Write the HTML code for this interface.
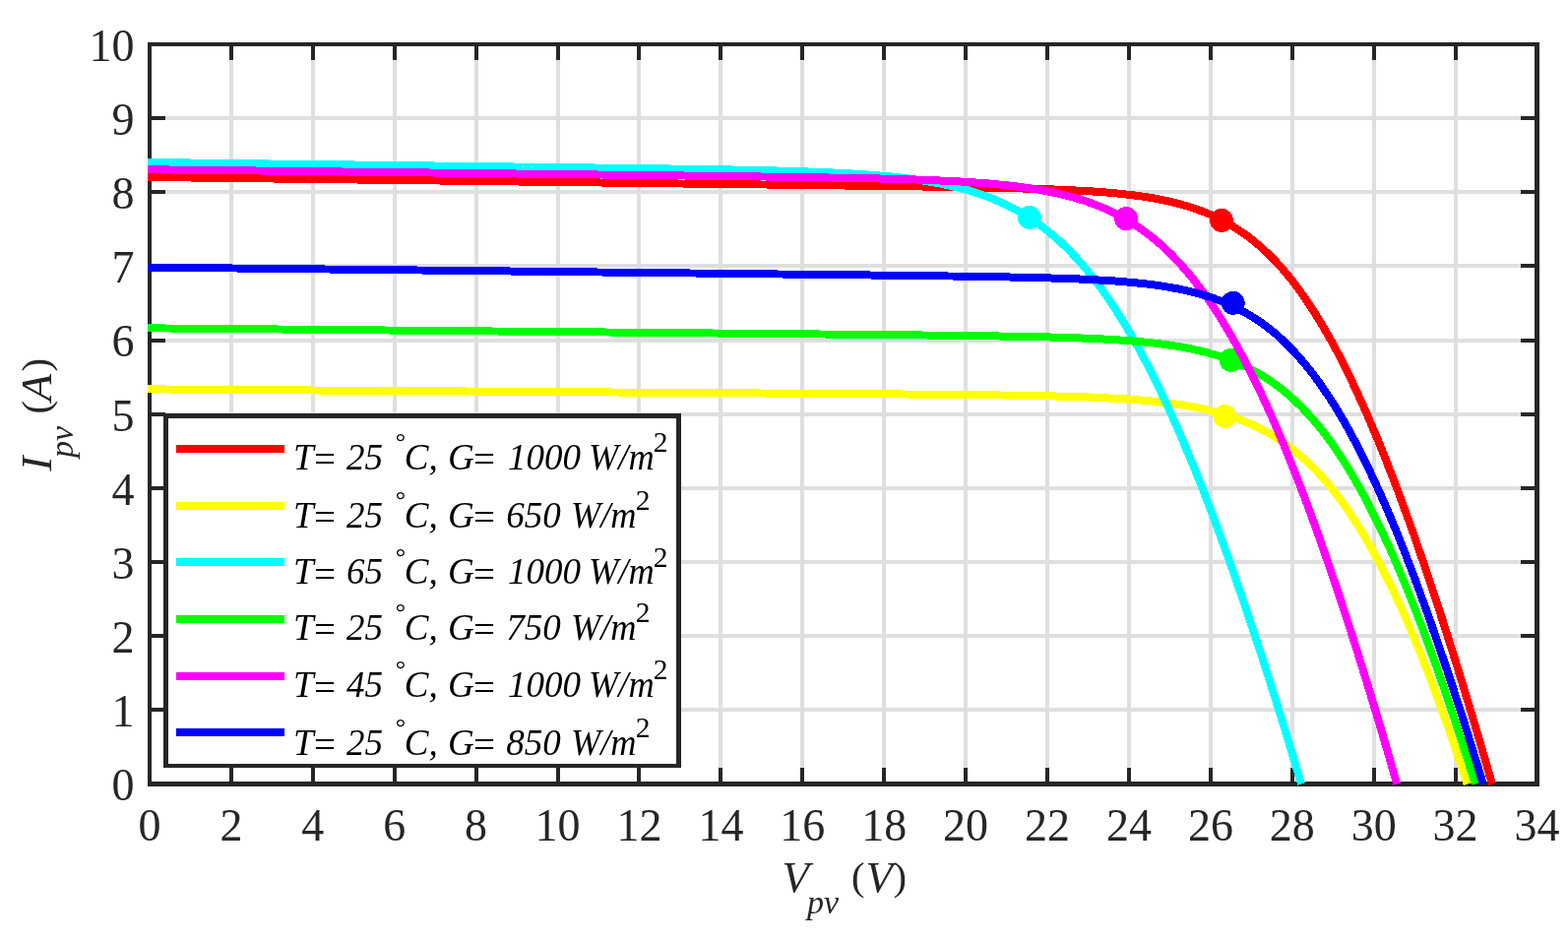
<!DOCTYPE html>
<html><head><meta charset="utf-8"><title>I-V characteristics</title>
<style>
html,body{margin:0;padding:0;background:#fff;}
body{width:1593px;height:956px;overflow:hidden;}
svg{display:block;}
.tk{font-family:"Liberation Serif","Times New Roman",serif;font-size:46px;fill:#262626;}
.lg{font-family:"Liberation Serif","Times New Roman",serif;font-style:italic;font-size:37px;fill:#000;}
.up{font-style:normal;}
.al{font-family:"Liberation Serif","Times New Roman",serif;font-style:italic;font-size:46px;fill:#262626;}
</style></head><body>
<svg width="1593" height="956" viewBox="0 0 1593 956">
<rect x="0" y="0" width="1593" height="956" fill="#fff"/>

<g fill="#dfdfdf" shape-rendering="crispEdges"><rect x="232.91" y="43" width="4" height="756"/><rect x="315.82" y="43" width="4" height="756"/><rect x="398.74" y="43" width="4" height="756"/><rect x="481.65" y="43" width="4" height="756"/><rect x="564.56" y="43" width="4" height="756"/><rect x="647.47" y="43" width="4" height="756"/><rect x="730.38" y="43" width="4" height="756"/><rect x="813.29" y="43" width="4" height="756"/><rect x="896.21" y="43" width="4" height="756"/><rect x="979.12" y="43" width="4" height="756"/><rect x="1062.03" y="43" width="4" height="756"/><rect x="1144.94" y="43" width="4" height="756"/><rect x="1227.85" y="43" width="4" height="756"/><rect x="1310.76" y="43" width="4" height="756"/><rect x="1393.68" y="43" width="4" height="756"/><rect x="1476.59" y="43" width="4" height="756"/><rect x="150" y="719.35" width="1414" height="4"/><rect x="150" y="644.20" width="1414" height="4"/><rect x="150" y="569.05" width="1414" height="4"/><rect x="150" y="493.90" width="1414" height="4"/><rect x="150" y="418.75" width="1414" height="4"/><rect x="150" y="343.60" width="1414" height="4"/><rect x="150" y="268.45" width="1414" height="4"/><rect x="150" y="193.30" width="1414" height="4"/><rect x="150" y="118.15" width="1414" height="4"/></g>
<g fill="#262626" shape-rendering="crispEdges"><rect x="232.91" y="43" width="4" height="18"/><rect x="232.91" y="780" width="4" height="19"/><rect x="315.82" y="43" width="4" height="18"/><rect x="315.82" y="780" width="4" height="19"/><rect x="398.74" y="43" width="4" height="18"/><rect x="398.74" y="780" width="4" height="19"/><rect x="481.65" y="43" width="4" height="18"/><rect x="481.65" y="780" width="4" height="19"/><rect x="564.56" y="43" width="4" height="18"/><rect x="564.56" y="780" width="4" height="19"/><rect x="647.47" y="43" width="4" height="18"/><rect x="647.47" y="780" width="4" height="19"/><rect x="730.38" y="43" width="4" height="18"/><rect x="730.38" y="780" width="4" height="19"/><rect x="813.29" y="43" width="4" height="18"/><rect x="813.29" y="780" width="4" height="19"/><rect x="896.21" y="43" width="4" height="18"/><rect x="896.21" y="780" width="4" height="19"/><rect x="979.12" y="43" width="4" height="18"/><rect x="979.12" y="780" width="4" height="19"/><rect x="1062.03" y="43" width="4" height="18"/><rect x="1062.03" y="780" width="4" height="19"/><rect x="1144.94" y="43" width="4" height="18"/><rect x="1144.94" y="780" width="4" height="19"/><rect x="1227.85" y="43" width="4" height="18"/><rect x="1227.85" y="780" width="4" height="19"/><rect x="1310.76" y="43" width="4" height="18"/><rect x="1310.76" y="780" width="4" height="19"/><rect x="1393.68" y="43" width="4" height="18"/><rect x="1393.68" y="780" width="4" height="19"/><rect x="1476.59" y="43" width="4" height="18"/><rect x="1476.59" y="780" width="4" height="19"/><rect x="150" y="719.35" width="18" height="4"/><rect x="1545" y="719.35" width="19" height="4"/><rect x="150" y="644.20" width="18" height="4"/><rect x="1545" y="644.20" width="19" height="4"/><rect x="150" y="569.05" width="18" height="4"/><rect x="1545" y="569.05" width="19" height="4"/><rect x="150" y="493.90" width="18" height="4"/><rect x="1545" y="493.90" width="19" height="4"/><rect x="150" y="418.75" width="18" height="4"/><rect x="1545" y="418.75" width="19" height="4"/><rect x="150" y="343.60" width="18" height="4"/><rect x="1545" y="343.60" width="19" height="4"/><rect x="150" y="268.45" width="18" height="4"/><rect x="1545" y="268.45" width="19" height="4"/><rect x="150" y="193.30" width="18" height="4"/><rect x="1545" y="193.30" width="19" height="4"/><rect x="150" y="118.15" width="18" height="4"/><rect x="1545" y="118.15" width="19" height="4"/><rect x="150" y="43" width="4" height="756"/><rect x="1559" y="43" width="5" height="756"/><rect x="150" y="43" width="1414" height="4"/><rect x="150" y="794" width="1414" height="5"/></g>
<g class="tk"><text x="152.0" y="854" text-anchor="middle">0</text><text x="234.9" y="854" text-anchor="middle">2</text><text x="317.8" y="854" text-anchor="middle">4</text><text x="400.7" y="854" text-anchor="middle">6</text><text x="483.6" y="854" text-anchor="middle">8</text><text x="566.6" y="854" text-anchor="middle">10</text><text x="649.5" y="854" text-anchor="middle">12</text><text x="732.4" y="854" text-anchor="middle">14</text><text x="815.3" y="854" text-anchor="middle">16</text><text x="898.2" y="854" text-anchor="middle">18</text><text x="981.1" y="854" text-anchor="middle">20</text><text x="1064.0" y="854" text-anchor="middle">22</text><text x="1146.9" y="854" text-anchor="middle">24</text><text x="1229.9" y="854" text-anchor="middle">26</text><text x="1312.8" y="854" text-anchor="middle">28</text><text x="1395.7" y="854" text-anchor="middle">30</text><text x="1478.6" y="854" text-anchor="middle">32</text><text x="1561.5" y="854" text-anchor="middle">34</text><text x="136.5" y="813.3" text-anchor="end">0</text><text x="136.5" y="738.1" text-anchor="end">1</text><text x="136.5" y="663.0" text-anchor="end">2</text><text x="136.5" y="587.8" text-anchor="end">3</text><text x="136.5" y="512.7" text-anchor="end">4</text><text x="136.5" y="437.6" text-anchor="end">5</text><text x="136.5" y="362.4" text-anchor="end">6</text><text x="136.5" y="287.2" text-anchor="end">7</text><text x="136.5" y="212.1" text-anchor="end">8</text><text x="136.5" y="136.9" text-anchor="end">9</text><text x="136.5" y="61.8" text-anchor="end">10</text></g>
<text class="al"><tspan x="794.5" y="906" font-size="45">V</tspan><tspan x="820" y="927.7" font-size="34">pv</tspan><tspan class="up" x="865.1" y="904.1" font-size="40.6">(</tspan><tspan x="879.5" y="906" font-size="45">V</tspan><tspan class="up" x="907.6" y="904.1" font-size="40.6">)</tspan></text>
<g transform="translate(51.8,478.5) rotate(-90)"><text class="al"><tspan x="0" y="0" font-size="45">I</tspan><tspan x="13.5" y="22" font-size="34">pv</tspan><tspan class="up" x="58.1" y="-1.6" font-size="40.6">(</tspan><tspan x="71" y="0" font-size="45">A</tspan><tspan class="up" x="101.1" y="-1.6" font-size="40.6">)</tspan></text></g>
<g shape-rendering="crispEdges"><polyline points="150.0,180.0 152.0,180.0 157.3,180.1 162.5,180.1 167.8,180.2 173.1,180.3 178.3,180.3 183.6,180.4 188.9,180.5 194.1,180.5 199.4,180.6 204.7,180.6 209.9,180.7 215.2,180.8 220.5,180.8 225.7,180.9 231.0,181.0 236.3,181.0 241.5,181.1 246.8,181.1 252.1,181.2 257.3,181.3 262.6,181.3 267.9,181.4 273.1,181.5 278.4,181.5 283.7,181.6 288.9,181.7 294.2,181.7 299.5,181.8 304.7,181.8 310.0,181.9 315.3,182.0 320.5,182.0 325.8,182.1 331.1,182.2 336.3,182.2 341.6,182.3 346.9,182.3 352.1,182.4 357.4,182.5 362.7,182.5 367.9,182.6 373.2,182.7 378.5,182.7 383.7,182.8 389.0,182.9 394.2,182.9 399.5,183.0 404.8,183.0 410.0,183.1 415.3,183.2 420.6,183.2 425.8,183.3 431.1,183.4 436.4,183.4 441.6,183.5 446.9,183.5 452.2,183.6 457.4,183.7 462.7,183.7 468.0,183.8 473.2,183.9 478.5,183.9 483.8,184.0 489.0,184.1 494.3,184.1 499.6,184.2 504.8,184.2 510.1,184.3 515.4,184.4 520.6,184.4 525.9,184.5 531.2,184.6 536.4,184.6 541.7,184.7 547.0,184.7 552.2,184.8 557.5,184.9 562.8,184.9 568.0,185.0 573.3,185.1 578.6,185.1 583.8,185.2 589.1,185.3 594.4,185.3 599.6,185.4 604.9,185.4 610.2,185.5 615.4,185.6 620.7,185.6 626.0,185.7 631.2,185.8 636.5,185.8 641.8,185.9 647.0,185.9 652.3,186.0 657.6,186.1 662.8,186.1 668.1,186.2 673.4,186.3 678.6,186.3 683.9,186.4 689.2,186.5 694.4,186.5 699.7,186.6 705.0,186.6 710.2,186.7 715.5,186.8 720.8,186.8 726.0,186.9 731.3,187.0 736.6,187.0 741.8,187.1 747.1,187.2 752.4,187.2 757.6,187.3 762.9,187.3 768.2,187.4 773.4,187.5 778.7,187.5 784.0,187.6 789.2,187.7 794.5,187.7 799.8,187.8 805.0,187.9 810.3,187.9 815.6,188.0 820.8,188.0 826.1,188.1 831.4,188.2 836.6,188.2 841.9,188.3 847.2,188.4 852.4,188.4 857.7,188.5 862.9,188.6 868.2,188.6 873.5,188.7 878.7,188.8 884.0,188.8 889.3,188.9 894.5,189.0 899.8,189.0 905.1,189.1 910.3,189.2 915.6,189.3 920.9,189.3 926.1,189.4 931.4,189.5 936.7,189.5 941.9,189.6 947.2,189.7 952.5,189.8 957.7,189.9 963.0,189.9 968.3,190.0 973.5,190.1 978.8,190.2 984.1,190.3 989.3,190.4 994.6,190.5 999.9,190.6 1005.1,190.7 1010.4,190.8 1015.7,190.9 1020.9,191.0 1026.2,191.1 1031.5,191.3 1036.7,191.4 1042.0,191.6 1047.3,191.7 1052.5,191.9 1057.8,192.0 1063.1,192.2 1068.3,192.4 1073.6,192.6 1078.9,192.8 1084.1,193.1 1089.4,193.3 1094.7,193.6 1099.9,193.9 1105.2,194.2 1110.5,194.5 1115.7,194.9 1121.0,195.3 1126.3,195.7 1131.5,196.2 1136.8,196.7 1142.1,197.3 1147.3,197.9 1152.6,198.5 1157.9,199.2 1163.1,200.0 1168.4,200.8 1173.7,201.8 1178.9,202.7 1184.2,203.8 1189.5,205.0 1194.7,206.3 1200.0,207.7 1205.3,209.2 1210.5,210.8 1215.8,212.6 1221.1,214.6 1226.3,216.6 1231.6,218.9 1236.9,221.4 1242.1,224.0 1247.4,226.9 1252.7,230.0 1257.9,233.3 1263.2,236.9 1268.5,240.7 1273.7,244.9 1279.0,249.3 1284.3,254.0 1289.5,259.0 1294.8,264.3 1300.1,270.0 1305.3,276.0 1310.6,282.4 1315.9,289.1 1321.1,296.2 1326.4,303.7 1331.6,311.6 1336.9,319.8 1342.2,328.4 1347.4,337.4 1352.7,346.7 1358.0,356.5 1363.2,366.6 1368.5,377.1 1373.8,388.0 1379.0,399.2 1384.3,410.8 1389.6,422.8 1394.8,435.1 1400.1,447.7 1405.4,460.7 1410.6,474.0 1415.9,487.6 1421.2,501.5 1426.4,515.8 1431.7,530.3 1437.0,545.1 1442.2,560.2 1447.5,575.6 1452.8,591.2 1458.0,607.1 1463.3,623.2 1468.6,639.6 1473.8,656.2 1479.1,673.0 1484.4,690.0 1489.6,707.3 1494.9,724.8 1500.2,742.4 1505.4,760.3 1510.7,778.3 1516.0,796.5" fill="none" stroke="#ff0000" stroke-width="8" stroke-linejoin="round"/><circle cx="1241.0" cy="223.9" r="12" fill="#ff0000"/><polyline points="150.0,395.4 152.0,395.4 157.2,395.4 162.3,395.4 167.5,395.5 172.7,395.5 177.8,395.5 183.0,395.6 188.2,395.6 193.3,395.6 198.5,395.7 203.7,395.7 208.9,395.7 214.0,395.8 219.2,395.8 224.4,395.8 229.5,395.9 234.7,395.9 239.9,395.9 245.0,396.0 250.2,396.0 255.4,396.0 260.5,396.1 265.7,396.1 270.9,396.1 276.0,396.2 281.2,396.2 286.4,396.3 291.6,396.3 296.7,396.3 301.9,396.4 307.1,396.4 312.2,396.4 317.4,396.5 322.6,396.5 327.7,396.5 332.9,396.6 338.1,396.6 343.2,396.6 348.4,396.7 353.6,396.7 358.7,396.7 363.9,396.8 369.1,396.8 374.3,396.8 379.4,396.9 384.6,396.9 389.8,396.9 394.9,397.0 400.1,397.0 405.3,397.0 410.4,397.1 415.6,397.1 420.8,397.1 425.9,397.2 431.1,397.2 436.3,397.2 441.4,397.3 446.6,397.3 451.8,397.3 457.0,397.4 462.1,397.4 467.3,397.4 472.5,397.5 477.6,397.5 482.8,397.5 488.0,397.6 493.1,397.6 498.3,397.6 503.5,397.7 508.6,397.7 513.8,397.7 519.0,397.8 524.1,397.8 529.3,397.8 534.5,397.9 539.6,397.9 544.8,398.0 550.0,398.0 555.2,398.0 560.3,398.1 565.5,398.1 570.7,398.1 575.8,398.2 581.0,398.2 586.2,398.2 591.3,398.3 596.5,398.3 601.7,398.3 606.8,398.4 612.0,398.4 617.2,398.4 622.3,398.5 627.5,398.5 632.7,398.5 637.9,398.6 643.0,398.6 648.2,398.6 653.4,398.7 658.5,398.7 663.7,398.7 668.9,398.8 674.0,398.8 679.2,398.8 684.4,398.9 689.5,398.9 694.7,398.9 699.9,399.0 705.0,399.0 710.2,399.0 715.4,399.1 720.6,399.1 725.7,399.1 730.9,399.2 736.1,399.2 741.2,399.2 746.4,399.3 751.6,399.3 756.7,399.4 761.9,399.4 767.1,399.4 772.2,399.5 777.4,399.5 782.6,399.5 787.7,399.6 792.9,399.6 798.1,399.6 803.2,399.7 808.4,399.7 813.6,399.7 818.8,399.8 823.9,399.8 829.1,399.8 834.3,399.9 839.4,399.9 844.6,399.9 849.8,400.0 854.9,400.0 860.1,400.1 865.3,400.1 870.4,400.1 875.6,400.2 880.8,400.2 885.9,400.2 891.1,400.3 896.3,400.3 901.5,400.4 906.6,400.4 911.8,400.4 917.0,400.5 922.1,400.5 927.3,400.6 932.5,400.6 937.6,400.6 942.8,400.7 948.0,400.7 953.1,400.8 958.3,400.8 963.5,400.9 968.6,400.9 973.8,401.0 979.0,401.0 984.2,401.1 989.3,401.1 994.5,401.2 999.7,401.3 1004.8,401.3 1010.0,401.4 1015.2,401.5 1020.3,401.5 1025.5,401.6 1030.7,401.7 1035.8,401.8 1041.0,401.9 1046.2,402.0 1051.3,402.0 1056.5,402.2 1061.7,402.3 1066.9,402.4 1072.0,402.5 1077.2,402.6 1082.4,402.8 1087.5,402.9 1092.7,403.1 1097.9,403.3 1103.0,403.4 1108.2,403.6 1113.4,403.9 1118.5,404.1 1123.7,404.3 1128.9,404.6 1134.0,404.9 1139.2,405.2 1144.4,405.5 1149.5,405.9 1154.7,406.3 1159.9,406.7 1165.1,407.1 1170.2,407.6 1175.4,408.2 1180.6,408.7 1185.7,409.4 1190.9,410.0 1196.1,410.8 1201.2,411.5 1206.4,412.4 1211.6,413.3 1216.7,414.3 1221.9,415.4 1227.1,416.6 1232.2,417.8 1237.4,419.2 1242.6,420.6 1247.8,422.2 1252.9,423.9 1258.1,425.8 1263.3,427.8 1268.4,429.9 1273.6,432.2 1278.8,434.7 1283.9,437.4 1289.1,440.2 1294.3,443.3 1299.4,446.6 1304.6,450.1 1309.8,453.9 1314.9,457.9 1320.1,462.1 1325.3,466.7 1330.5,471.5 1335.6,476.7 1340.8,482.1 1346.0,487.9 1351.1,494.0 1356.3,500.4 1361.5,507.2 1366.6,514.3 1371.8,521.8 1377.0,529.7 1382.1,537.9 1387.3,546.5 1392.5,555.5 1397.6,564.9 1402.8,574.6 1408.0,584.8 1413.1,595.3 1418.3,606.2 1423.5,617.5 1428.7,629.1 1433.8,641.1 1439.0,653.5 1444.2,666.3 1449.3,679.4 1454.5,692.9 1459.7,706.7 1464.8,720.8 1470.0,735.3 1475.2,750.1 1480.3,765.3 1485.5,780.7 1490.7,796.5" fill="none" stroke="#ffff00" stroke-width="8" stroke-linejoin="round"/><circle cx="1244.4" cy="423.0" r="12" fill="#ffff00"/><polyline points="150.0,165.0 152.0,165.0 156.5,165.0 161.0,165.1 165.6,165.2 170.1,165.2 174.6,165.3 179.1,165.3 183.6,165.4 188.1,165.4 192.7,165.5 197.2,165.5 201.7,165.6 206.2,165.6 210.7,165.7 215.2,165.8 219.8,165.8 224.3,165.9 228.8,165.9 233.3,166.0 237.8,166.0 242.4,166.1 246.9,166.1 251.4,166.2 255.9,166.2 260.4,166.3 264.9,166.3 269.5,166.4 274.0,166.5 278.5,166.5 283.0,166.6 287.5,166.6 292.0,166.7 296.6,166.7 301.1,166.8 305.6,166.8 310.1,166.9 314.6,166.9 319.2,167.0 323.7,167.1 328.2,167.1 332.7,167.2 337.2,167.2 341.7,167.3 346.3,167.3 350.8,167.4 355.3,167.4 359.8,167.5 364.3,167.5 368.8,167.6 373.4,167.7 377.9,167.7 382.4,167.8 386.9,167.8 391.4,167.9 395.9,167.9 400.5,168.0 405.0,168.0 409.5,168.1 414.0,168.1 418.5,168.2 423.1,168.2 427.6,168.3 432.1,168.4 436.6,168.4 441.1,168.5 445.6,168.5 450.2,168.6 454.7,168.6 459.2,168.7 463.7,168.7 468.2,168.8 472.7,168.8 477.3,168.9 481.8,169.0 486.3,169.0 490.8,169.1 495.3,169.1 499.9,169.2 504.4,169.2 508.9,169.3 513.4,169.3 517.9,169.4 522.4,169.5 527.0,169.5 531.5,169.6 536.0,169.6 540.5,169.7 545.0,169.7 549.5,169.8 554.1,169.8 558.6,169.9 563.1,170.0 567.6,170.0 572.1,170.1 576.7,170.1 581.2,170.2 585.7,170.2 590.2,170.3 594.7,170.3 599.2,170.4 603.8,170.5 608.3,170.5 612.8,170.6 617.3,170.6 621.8,170.7 626.3,170.8 630.9,170.8 635.4,170.9 639.9,170.9 644.4,171.0 648.9,171.1 653.5,171.1 658.0,171.2 662.5,171.2 667.0,171.3 671.5,171.4 676.0,171.4 680.6,171.5 685.1,171.6 689.6,171.6 694.1,171.7 698.6,171.8 703.1,171.8 707.7,171.9 712.2,172.0 716.7,172.0 721.2,172.1 725.7,172.2 730.3,172.3 734.8,172.4 739.3,172.4 743.8,172.5 748.3,172.6 752.8,172.7 757.4,172.8 761.9,172.9 766.4,173.0 770.9,173.1 775.4,173.2 779.9,173.3 784.5,173.4 789.0,173.5 793.5,173.6 798.0,173.8 802.5,173.9 807.0,174.0 811.6,174.2 816.1,174.3 820.6,174.5 825.1,174.6 829.6,174.8 834.2,175.0 838.7,175.2 843.2,175.4 847.7,175.6 852.2,175.8 856.7,176.0 861.3,176.2 865.8,176.5 870.3,176.8 874.8,177.1 879.3,177.4 883.8,177.7 888.4,178.0 892.9,178.4 897.4,178.8 901.9,179.2 906.4,179.6 911.0,180.1 915.5,180.6 920.0,181.1 924.5,181.7 929.0,182.3 933.5,182.9 938.1,183.6 942.6,184.3 947.1,185.1 951.6,185.9 956.1,186.7 960.6,187.7 965.2,188.6 969.7,189.7 974.2,190.8 978.7,192.0 983.2,193.2 987.8,194.6 992.3,196.0 996.8,197.5 1001.3,199.1 1005.8,200.8 1010.3,202.7 1014.9,204.6 1019.4,206.6 1023.9,208.8 1028.4,211.1 1032.9,213.5 1037.4,216.1 1042.0,218.8 1046.5,221.7 1051.0,224.7 1055.5,227.9 1060.0,231.3 1064.6,234.8 1069.1,238.5 1073.6,242.4 1078.1,246.5 1082.6,250.9 1087.1,255.4 1091.7,260.1 1096.2,265.0 1100.7,270.2 1105.2,275.6 1109.7,281.2 1114.2,287.1 1118.8,293.1 1123.3,299.5 1127.8,306.0 1132.3,312.8 1136.8,319.9 1141.4,327.2 1145.9,334.7 1150.4,342.5 1154.9,350.5 1159.4,358.7 1163.9,367.3 1168.5,376.0 1173.0,385.0 1177.5,394.2 1182.0,403.7 1186.5,413.4 1191.0,423.3 1195.6,433.5 1200.1,443.9 1204.6,454.5 1209.1,465.3 1213.6,476.3 1218.1,487.6 1222.7,499.1 1227.2,510.7 1231.7,522.6 1236.2,534.7 1240.7,546.9 1245.3,559.4 1249.8,572.0 1254.3,584.8 1258.8,597.8 1263.3,611.0 1267.8,624.4 1272.4,637.9 1276.9,651.6 1281.4,665.4 1285.9,679.4 1290.4,693.5 1294.9,707.8 1299.5,722.3 1304.0,736.8 1308.5,751.5 1313.0,766.4 1317.5,781.4 1322.1,796.5" fill="none" stroke="#00ffff" stroke-width="8" stroke-linejoin="round"/><circle cx="1045.8" cy="220.9" r="12" fill="#00ffff"/><polyline points="150.0,333.3 152.0,333.3 157.2,333.4 162.4,333.4 167.6,333.5 172.8,333.5 178.0,333.6 183.2,333.6 188.4,333.6 193.6,333.7 198.8,333.7 204.0,333.8 209.2,333.8 214.4,333.9 219.6,333.9 224.8,334.0 230.0,334.0 235.2,334.1 240.4,334.1 245.6,334.2 250.8,334.2 256.0,334.3 261.2,334.3 266.4,334.3 271.6,334.4 276.8,334.4 282.0,334.5 287.2,334.5 292.4,334.6 297.6,334.6 302.8,334.7 308.0,334.7 313.2,334.8 318.4,334.8 323.6,334.9 328.8,334.9 334.0,335.0 339.2,335.0 344.4,335.0 349.6,335.1 354.8,335.1 360.0,335.2 365.2,335.2 370.4,335.3 375.6,335.3 380.8,335.4 386.0,335.4 391.2,335.5 396.4,335.5 401.6,335.6 406.8,335.6 412.0,335.7 417.2,335.7 422.4,335.8 427.6,335.8 432.8,335.8 438.0,335.9 443.2,335.9 448.4,336.0 453.6,336.0 458.8,336.1 464.0,336.1 469.2,336.2 474.4,336.2 479.6,336.3 484.8,336.3 490.0,336.4 495.2,336.4 500.4,336.5 505.6,336.5 510.8,336.5 516.0,336.6 521.2,336.6 526.4,336.7 531.6,336.7 536.8,336.8 542.0,336.8 547.2,336.9 552.4,336.9 557.6,337.0 562.8,337.0 568.0,337.1 573.2,337.1 578.4,337.2 583.6,337.2 588.8,337.3 594.0,337.3 599.2,337.3 604.4,337.4 609.6,337.4 614.8,337.5 620.0,337.5 625.2,337.6 630.4,337.6 635.6,337.7 640.8,337.7 646.0,337.8 651.2,337.8 656.4,337.9 661.6,337.9 666.8,338.0 672.0,338.0 677.2,338.0 682.4,338.1 687.6,338.1 692.8,338.2 698.0,338.2 703.2,338.3 708.4,338.3 713.6,338.4 718.8,338.4 724.0,338.5 729.2,338.5 734.4,338.6 739.6,338.6 744.8,338.7 750.0,338.7 755.2,338.8 760.4,338.8 765.6,338.8 770.8,338.9 776.0,338.9 781.2,339.0 786.4,339.0 791.6,339.1 796.8,339.1 802.0,339.2 807.2,339.2 812.3,339.3 817.5,339.3 822.7,339.4 827.9,339.4 833.1,339.5 838.3,339.5 843.5,339.6 848.7,339.6 853.9,339.7 859.1,339.7 864.3,339.8 869.5,339.8 874.7,339.9 879.9,339.9 885.1,340.0 890.3,340.0 895.5,340.1 900.7,340.1 905.9,340.2 911.1,340.2 916.3,340.3 921.5,340.3 926.7,340.4 931.9,340.4 937.1,340.5 942.3,340.5 947.5,340.6 952.7,340.7 957.9,340.7 963.1,340.8 968.3,340.8 973.5,340.9 978.7,341.0 983.9,341.0 989.1,341.1 994.3,341.2 999.5,341.2 1004.7,341.3 1009.9,341.4 1015.1,341.5 1020.3,341.6 1025.5,341.6 1030.7,341.7 1035.9,341.8 1041.1,341.9 1046.3,342.0 1051.5,342.2 1056.7,342.3 1061.9,342.4 1067.1,342.5 1072.3,342.7 1077.5,342.8 1082.7,343.0 1087.9,343.1 1093.1,343.3 1098.3,343.5 1103.5,343.7 1108.7,343.9 1113.9,344.2 1119.1,344.4 1124.3,344.7 1129.5,345.0 1134.7,345.3 1139.9,345.7 1145.1,346.0 1150.3,346.5 1155.5,346.9 1160.7,347.4 1165.9,347.9 1171.1,348.4 1176.3,349.0 1181.5,349.7 1186.7,350.4 1191.9,351.2 1197.1,352.0 1202.3,352.9 1207.5,353.9 1212.7,355.0 1217.9,356.2 1223.1,357.4 1228.3,358.8 1233.5,360.3 1238.7,361.9 1243.9,363.7 1249.1,365.5 1254.3,367.6 1259.5,369.8 1264.7,372.1 1269.9,374.7 1275.1,377.5 1280.3,380.4 1285.5,383.6 1290.7,387.0 1295.9,390.7 1301.1,394.6 1306.3,398.8 1311.5,403.3 1316.7,408.1 1321.9,413.2 1327.1,418.5 1332.3,424.3 1337.5,430.3 1342.7,436.7 1347.9,443.5 1353.1,450.6 1358.3,458.1 1363.5,465.9 1368.7,474.2 1373.9,482.8 1379.1,491.8 1384.3,501.1 1389.5,510.9 1394.7,521.0 1399.9,531.5 1405.1,542.4 1410.3,553.7 1415.5,565.3 1420.7,577.3 1425.9,589.7 1431.1,602.4 1436.3,615.4 1441.5,628.8 1446.7,642.5 1451.9,656.6 1457.1,671.0 1462.3,685.6 1467.5,700.6 1472.7,715.9 1477.9,731.5 1483.1,747.3 1488.3,763.5 1493.5,779.9 1498.7,796.5" fill="none" stroke="#00ff00" stroke-width="8" stroke-linejoin="round"/><circle cx="1250.6" cy="365.8" r="12" fill="#00ff00"/><polyline points="150.0,172.2 152.0,172.2 156.9,172.3 161.8,172.3 166.7,172.4 171.6,172.5 176.5,172.5 181.4,172.6 186.2,172.6 191.1,172.7 196.0,172.7 200.9,172.8 205.8,172.8 210.7,172.9 215.6,173.0 220.5,173.0 225.4,173.1 230.3,173.1 235.2,173.2 240.1,173.2 245.0,173.3 249.9,173.4 254.7,173.4 259.6,173.5 264.5,173.5 269.4,173.6 274.3,173.6 279.2,173.7 284.1,173.7 289.0,173.8 293.9,173.9 298.8,173.9 303.7,174.0 308.6,174.0 313.5,174.1 318.4,174.1 323.2,174.2 328.1,174.3 333.0,174.3 337.9,174.4 342.8,174.4 347.7,174.5 352.6,174.5 357.5,174.6 362.4,174.6 367.3,174.7 372.2,174.8 377.1,174.8 382.0,174.9 386.9,174.9 391.7,175.0 396.6,175.0 401.5,175.1 406.4,175.2 411.3,175.2 416.2,175.3 421.1,175.3 426.0,175.4 430.9,175.4 435.8,175.5 440.7,175.5 445.6,175.6 450.5,175.7 455.4,175.7 460.2,175.8 465.1,175.8 470.0,175.9 474.9,175.9 479.8,176.0 484.7,176.1 489.6,176.1 494.5,176.2 499.4,176.2 504.3,176.3 509.2,176.3 514.1,176.4 519.0,176.4 523.9,176.5 528.7,176.6 533.6,176.6 538.5,176.7 543.4,176.7 548.3,176.8 553.2,176.8 558.1,176.9 563.0,177.0 567.9,177.0 572.8,177.1 577.7,177.1 582.6,177.2 587.5,177.2 592.4,177.3 597.2,177.4 602.1,177.4 607.0,177.5 611.9,177.5 616.8,177.6 621.7,177.6 626.6,177.7 631.5,177.8 636.4,177.8 641.3,177.9 646.2,177.9 651.1,178.0 656.0,178.0 660.9,178.1 665.7,178.2 670.6,178.2 675.5,178.3 680.4,178.3 685.3,178.4 690.2,178.4 695.1,178.5 700.0,178.6 704.9,178.6 709.8,178.7 714.7,178.7 719.6,178.8 724.5,178.9 729.4,178.9 734.2,179.0 739.1,179.0 744.0,179.1 748.9,179.2 753.8,179.2 758.7,179.3 763.6,179.4 768.5,179.4 773.4,179.5 778.3,179.5 783.2,179.6 788.1,179.7 793.0,179.7 797.9,179.8 802.7,179.9 807.6,180.0 812.5,180.0 817.4,180.1 822.3,180.2 827.2,180.2 832.1,180.3 837.0,180.4 841.9,180.5 846.8,180.6 851.7,180.7 856.6,180.7 861.5,180.8 866.4,180.9 871.2,181.0 876.1,181.1 881.0,181.2 885.9,181.3 890.8,181.4 895.7,181.6 900.6,181.7 905.5,181.8 910.4,181.9 915.3,182.1 920.2,182.2 925.1,182.4 930.0,182.5 934.9,182.7 939.7,182.9 944.6,183.1 949.5,183.3 954.4,183.5 959.3,183.7 964.2,183.9 969.1,184.2 974.0,184.4 978.9,184.7 983.8,185.0 988.7,185.3 993.6,185.7 998.5,186.1 1003.3,186.4 1008.2,186.9 1013.1,187.3 1018.0,187.8 1022.9,188.3 1027.8,188.9 1032.7,189.4 1037.6,190.1 1042.5,190.7 1047.4,191.5 1052.3,192.2 1057.2,193.1 1062.1,194.0 1067.0,194.9 1071.8,195.9 1076.7,197.0 1081.6,198.2 1086.5,199.5 1091.4,200.8 1096.3,202.3 1101.2,203.8 1106.1,205.5 1111.0,207.3 1115.9,209.2 1120.8,211.2 1125.7,213.4 1130.6,215.7 1135.5,218.2 1140.3,220.8 1145.2,223.6 1150.1,226.6 1155.0,229.8 1159.9,233.1 1164.8,236.7 1169.7,240.5 1174.6,244.5 1179.5,248.7 1184.4,253.2 1189.3,257.9 1194.2,262.9 1199.1,268.2 1204.0,273.7 1208.8,279.5 1213.7,285.5 1218.6,291.9 1223.5,298.5 1228.4,305.5 1233.3,312.7 1238.2,320.2 1243.1,328.1 1248.0,336.2 1252.9,344.7 1257.8,353.5 1262.7,362.6 1267.6,371.9 1272.5,381.6 1277.3,391.6 1282.2,401.9 1287.1,412.5 1292.0,423.5 1296.9,434.6 1301.8,446.1 1306.7,457.9 1311.6,470.0 1316.5,482.3 1321.4,494.9 1326.3,507.8 1331.2,520.9 1336.1,534.3 1341.0,548.0 1345.8,561.9 1350.7,576.0 1355.6,590.4 1360.5,605.0 1365.4,619.9 1370.3,634.9 1375.2,650.2 1380.1,665.7 1385.0,681.4 1389.9,697.3 1394.8,713.3 1399.7,729.6 1404.6,746.1 1409.5,762.7 1414.3,779.5 1419.2,796.5" fill="none" stroke="#ff00ff" stroke-width="8" stroke-linejoin="round"/><circle cx="1144.0" cy="222.1" r="12" fill="#ff00ff"/><polyline points="150.0,271.5 152.0,271.5 157.2,271.6 162.5,271.7 167.7,271.7 172.9,271.8 178.2,271.8 183.4,271.9 188.6,271.9 193.8,272.0 199.1,272.1 204.3,272.1 209.5,272.2 214.8,272.2 220.0,272.3 225.2,272.3 230.5,272.4 235.7,272.5 240.9,272.5 246.2,272.6 251.4,272.6 256.6,272.7 261.8,272.7 267.1,272.8 272.3,272.8 277.5,272.9 282.8,273.0 288.0,273.0 293.2,273.1 298.5,273.1 303.7,273.2 308.9,273.2 314.2,273.3 319.4,273.4 324.6,273.4 329.8,273.5 335.1,273.5 340.3,273.6 345.5,273.6 350.8,273.7 356.0,273.8 361.2,273.8 366.5,273.9 371.7,273.9 376.9,274.0 382.2,274.0 387.4,274.1 392.6,274.1 397.9,274.2 403.1,274.3 408.3,274.3 413.5,274.4 418.8,274.4 424.0,274.5 429.2,274.5 434.5,274.6 439.7,274.7 444.9,274.7 450.2,274.8 455.4,274.8 460.6,274.9 465.9,274.9 471.1,275.0 476.3,275.1 481.5,275.1 486.8,275.2 492.0,275.2 497.2,275.3 502.5,275.3 507.7,275.4 512.9,275.4 518.2,275.5 523.4,275.6 528.6,275.6 533.9,275.7 539.1,275.7 544.3,275.8 549.5,275.8 554.8,275.9 560.0,276.0 565.2,276.0 570.5,276.1 575.7,276.1 580.9,276.2 586.2,276.2 591.4,276.3 596.6,276.4 601.9,276.4 607.1,276.5 612.3,276.5 617.5,276.6 622.8,276.6 628.0,276.7 633.2,276.8 638.5,276.8 643.7,276.9 648.9,276.9 654.2,277.0 659.4,277.0 664.6,277.1 669.9,277.1 675.1,277.2 680.3,277.3 685.5,277.3 690.8,277.4 696.0,277.4 701.2,277.5 706.5,277.5 711.7,277.6 716.9,277.7 722.2,277.7 727.4,277.8 732.6,277.8 737.9,277.9 743.1,277.9 748.3,278.0 753.6,278.1 758.8,278.1 764.0,278.2 769.2,278.2 774.5,278.3 779.7,278.3 784.9,278.4 790.2,278.5 795.4,278.5 800.6,278.6 805.9,278.6 811.1,278.7 816.3,278.7 821.6,278.8 826.8,278.9 832.0,278.9 837.2,279.0 842.5,279.0 847.7,279.1 852.9,279.1 858.2,279.2 863.4,279.3 868.6,279.3 873.9,279.4 879.1,279.4 884.3,279.5 889.6,279.6 894.8,279.6 900.0,279.7 905.2,279.7 910.5,279.8 915.7,279.9 920.9,279.9 926.2,280.0 931.4,280.1 936.6,280.1 941.9,280.2 947.1,280.3 952.3,280.3 957.6,280.4 962.8,280.5 968.0,280.5 973.2,280.6 978.5,280.7 983.7,280.8 988.9,280.8 994.2,280.9 999.4,281.0 1004.6,281.1 1009.9,281.2 1015.1,281.3 1020.3,281.4 1025.6,281.5 1030.8,281.6 1036.0,281.7 1041.2,281.8 1046.5,281.9 1051.7,282.1 1056.9,282.2 1062.2,282.3 1067.4,282.5 1072.6,282.6 1077.9,282.8 1083.1,283.0 1088.3,283.2 1093.6,283.4 1098.8,283.6 1104.0,283.8 1109.3,284.1 1114.5,284.4 1119.7,284.7 1124.9,285.0 1130.2,285.3 1135.4,285.7 1140.6,286.1 1145.9,286.6 1151.1,287.1 1156.3,287.6 1161.6,288.1 1166.8,288.7 1172.0,289.4 1177.3,290.1 1182.5,290.9 1187.7,291.8 1192.9,292.7 1198.2,293.7 1203.4,294.8 1208.6,296.0 1213.9,297.3 1219.1,298.7 1224.3,300.3 1229.6,301.9 1234.8,303.8 1240.0,305.7 1245.3,307.8 1250.5,310.1 1255.7,312.6 1260.9,315.3 1266.2,318.2 1271.4,321.3 1276.6,324.6 1281.9,328.2 1287.1,332.1 1292.3,336.2 1297.6,340.6 1302.8,345.3 1308.0,350.4 1313.3,355.7 1318.5,361.4 1323.7,367.4 1328.9,373.7 1334.2,380.4 1339.4,387.5 1344.6,395.0 1349.9,402.8 1355.1,410.9 1360.3,419.5 1365.6,428.4 1370.8,437.8 1376.0,447.4 1381.3,457.5 1386.5,467.9 1391.7,478.7 1396.9,489.9 1402.2,501.4 1407.4,513.3 1412.6,525.5 1417.9,538.1 1423.1,551.0 1428.3,564.2 1433.6,577.8 1438.8,591.6 1444.0,605.8 1449.3,620.3 1454.5,635.0 1459.7,650.0 1464.9,665.3 1470.2,680.9 1475.4,696.7 1480.6,712.7 1485.9,729.0 1491.1,745.6 1496.3,762.3 1501.6,779.3 1506.8,796.5" fill="none" stroke="#0000ff" stroke-width="8" stroke-linejoin="round"/><circle cx="1252.7" cy="307.8" r="12" fill="#0000ff"/></g>
<g><rect x="166" y="420" width="526" height="360" fill="#fff"/><g fill="#262626" shape-rendering="crispEdges"><rect x="166" y="420" width="526" height="5"/><rect x="166" y="776" width="526" height="4"/><rect x="166" y="420" width="5" height="360"/><rect x="687" y="420" width="5" height="360"/></g><rect x="179" y="452.0" width="110" height="8" fill="#ff0000" shape-rendering="crispEdges"/><text class="lg" y="476.6"><tspan x="297.9">T</tspan><tspan x="316.6" y="480.1" font-size="39">=</tspan><tspan x="352.0" y="476.6">25</tspan><tspan class="up" x="401.7" y="457.0" font-size="26">°</tspan><tspan x="410.8" y="476.6">C,</tspan><tspan x="454.9">G</tspan><tspan x="478.6" y="480.1" font-size="39">=</tspan><tspan x="516.0" y="476.6">1000</tspan><tspan x="598.1" textLength="66.6" lengthAdjust="spacingAndGlyphs">W/m</tspan><tspan class="up" x="663.7" y="458.8" font-size="29.5">2</tspan></text><rect x="179" y="509.6" width="110" height="8" fill="#ffff00" shape-rendering="crispEdges"/><text class="lg" y="535.7"><tspan x="297.9">T</tspan><tspan x="316.6" y="539.2" font-size="39">=</tspan><tspan x="352.0" y="535.7">25</tspan><tspan class="up" x="401.7" y="516.1" font-size="26">°</tspan><tspan x="410.8" y="535.7">C,</tspan><tspan x="454.9">G</tspan><tspan x="478.6" y="539.2" font-size="39">=</tspan><tspan x="514.2" y="535.7">650</tspan><tspan x="579.9" textLength="66.6" lengthAdjust="spacingAndGlyphs">W/m</tspan><tspan class="up" x="645.7" y="517.9" font-size="29.5">2</tspan></text><rect x="179" y="567.3" width="110" height="8" fill="#00ffff" shape-rendering="crispEdges"/><text class="lg" y="593.4"><tspan x="297.9">T</tspan><tspan x="316.6" y="596.9" font-size="39">=</tspan><tspan x="352.0" y="593.4">65</tspan><tspan class="up" x="401.7" y="573.8" font-size="26">°</tspan><tspan x="410.8" y="593.4">C,</tspan><tspan x="454.9">G</tspan><tspan x="478.6" y="596.9" font-size="39">=</tspan><tspan x="516.0" y="593.4">1000</tspan><tspan x="598.1" textLength="66.6" lengthAdjust="spacingAndGlyphs">W/m</tspan><tspan class="up" x="663.7" y="575.6" font-size="29.5">2</tspan></text><rect x="179" y="625.0" width="110" height="8" fill="#00ff00" shape-rendering="crispEdges"/><text class="lg" y="649.6"><tspan x="297.9">T</tspan><tspan x="316.6" y="653.1" font-size="39">=</tspan><tspan x="352.0" y="649.6">25</tspan><tspan class="up" x="401.7" y="630.0" font-size="26">°</tspan><tspan x="410.8" y="649.6">C,</tspan><tspan x="454.9">G</tspan><tspan x="478.6" y="653.1" font-size="39">=</tspan><tspan x="514.2" y="649.6">750</tspan><tspan x="579.9" textLength="66.6" lengthAdjust="spacingAndGlyphs">W/m</tspan><tspan class="up" x="645.7" y="631.8" font-size="29.5">2</tspan></text><rect x="179" y="682.6" width="110" height="8" fill="#ff00ff" shape-rendering="crispEdges"/><text class="lg" y="708.0"><tspan x="297.9">T</tspan><tspan x="316.6" y="711.5" font-size="39">=</tspan><tspan x="352.0" y="708.0">45</tspan><tspan class="up" x="401.7" y="688.4" font-size="26">°</tspan><tspan x="410.8" y="708.0">C,</tspan><tspan x="454.9">G</tspan><tspan x="478.6" y="711.5" font-size="39">=</tspan><tspan x="516.0" y="708.0">1000</tspan><tspan x="598.1" textLength="66.6" lengthAdjust="spacingAndGlyphs">W/m</tspan><tspan class="up" x="663.7" y="690.2" font-size="29.5">2</tspan></text><rect x="179" y="740.2" width="110" height="8" fill="#0000ff" shape-rendering="crispEdges"/><text class="lg" y="766.8"><tspan x="297.9">T</tspan><tspan x="316.6" y="770.3" font-size="39">=</tspan><tspan x="352.0" y="766.8">25</tspan><tspan class="up" x="401.7" y="747.2" font-size="26">°</tspan><tspan x="410.8" y="766.8">C,</tspan><tspan x="454.9">G</tspan><tspan x="478.6" y="770.3" font-size="39">=</tspan><tspan x="514.2" y="766.8">850</tspan><tspan x="579.9" textLength="66.6" lengthAdjust="spacingAndGlyphs">W/m</tspan><tspan class="up" x="645.7" y="749.0" font-size="29.5">2</tspan></text></g>
</svg></body></html>
